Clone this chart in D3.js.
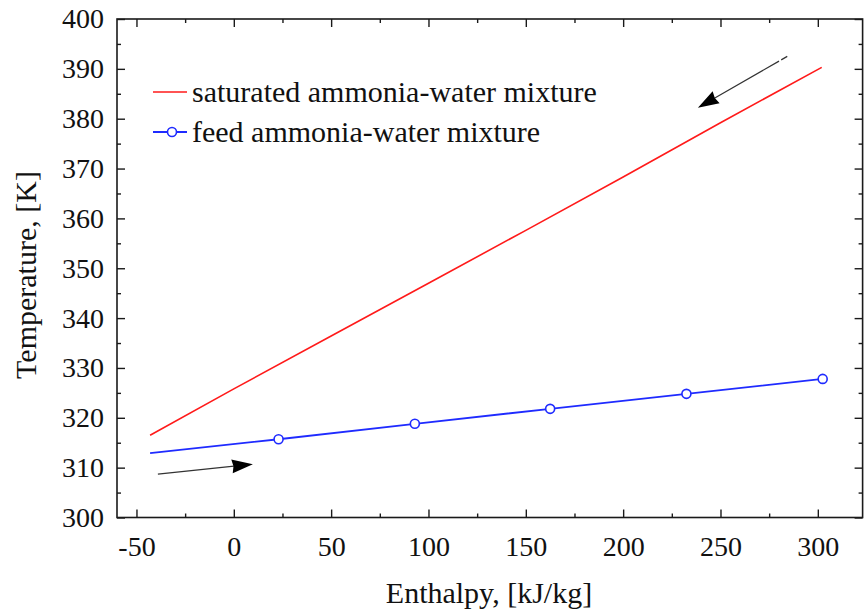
<!DOCTYPE html>
<html>
<head>
<meta charset="utf-8">
<script src="https://cdn.jsdelivr.net/npm/d3@7"></script>
<style>
  html, body { margin: 0; padding: 0; background: #fff; }
  svg { display: block; }
  svg text { font-family: "Liberation Serif", "Times New Roman", serif; fill: #111; }
</style>
</head>
<body>
<svg id="chart" width="865" height="616"></svg>
<script>
// Saturated ammonia-water mixture: temperature vs enthalpy
const satEnthalpy = [-43, 0, 50, 100, 150, 200, 250, 302];
const satTemp     = [316.5, 325.8, 336.4, 347.0, 357.6, 368.3, 379.2, 390.3];

// Feed ammonia-water mixture (markers on all but the first point)
const feedEnthalpy = [-43, 23, 93, 162.5, 232.5, 302.5];
const feedTemp     = [312.9, 315.7, 318.8, 321.8, 324.8, 327.8];
const feedMarked   = [false, true, true, true, true, true];

// Flow direction arrows: [tail enthalpy, tail temp, tip enthalpy, tip temp]
const feedArrow = [-39, 308.7, 9.8, 310.7];
const satArrow  = [284.3, 392.5, 238.4, 382.2];

const xTicks = [-50, 0, 50, 100, 150, 200, 250, 300];
const xMinor = [-25, 25, 75, 125, 175, 225, 275];
const yTicks = [300, 310, 320, 330, 340, 350, 360, 370, 380, 390, 400];
const yMinor = [305, 315, 325, 335, 345, 355, 365, 375, 385, 395];

const legendLabels = ["saturated ammonia-water mixture", "feed ammonia-water mixture"];

const FONT = '"Liberation Serif", "Times New Roman", serif';
const svg = d3.select("#chart");
const L = 117, R = 862.6, T = 19, B = 517.5;

const x = d3.scaleLinear().domain([-60, 323]).range([L, R]);
const y = d3.scaleLinear().domain([300, 400]).range([B, T]);

const axisColor = "#1a1a1a";

// frame
svg.append("rect")
  .attr("x", L).attr("y", T).attr("width", R - L).attr("height", B - T)
  .attr("fill", "none").attr("stroke", axisColor).attr("stroke-width", 1.6);

function styleAxis(g) {
  g.attr("font-family", FONT);
  g.select(".domain").remove();
  g.selectAll(".tick line").attr("stroke", axisColor).attr("stroke-width", 1.4);
}
const plain = d => String(d);

// bottom axis with labels
svg.append("g").attr("transform", `translate(0,${B})`)
  .call(d3.axisBottom(x).tickValues(xTicks).tickSize(-8).tickPadding(19).tickFormat(plain))
  .call(styleAxis)
  .call(g => g.selectAll("text").attr("font-size", 28).attr("dy", "0.71em")
    .attr("fill", "#111").attr("font-family", FONT));
svg.append("g").attr("transform", `translate(0,${B})`)
  .call(d3.axisBottom(x).tickValues(xMinor).tickSize(-4).tickFormat(""))
  .call(styleAxis);

// top axis ticks
svg.append("g").attr("transform", `translate(0,${T})`)
  .call(d3.axisTop(x).tickValues(xTicks).tickSize(-8).tickFormat(""))
  .call(styleAxis);
svg.append("g").attr("transform", `translate(0,${T})`)
  .call(d3.axisTop(x).tickValues(xMinor).tickSize(-4).tickFormat(""))
  .call(styleAxis);

// left axis with labels
svg.append("g").attr("transform", `translate(${L},0)`)
  .call(d3.axisLeft(y).tickValues(yTicks).tickSize(-8).tickPadding(13).tickFormat(plain))
  .call(styleAxis)
  .call(g => g.selectAll("text").attr("font-size", 28).attr("fill", "#111")
    .attr("font-family", FONT));
svg.append("g").attr("transform", `translate(${L},0)`)
  .call(d3.axisLeft(y).tickValues(yMinor).tickSize(-4).tickFormat(""))
  .call(styleAxis);

// right axis ticks
svg.append("g").attr("transform", `translate(${R},0)`)
  .call(d3.axisRight(y).tickValues(yTicks).tickSize(-8).tickFormat(""))
  .call(styleAxis);
svg.append("g").attr("transform", `translate(${R},0)`)
  .call(d3.axisRight(y).tickValues(yMinor).tickSize(-4).tickFormat(""))
  .call(styleAxis);

// axis titles
svg.append("text")
  .attr("x", 489).attr("y", 603)
  .attr("text-anchor", "middle").attr("font-size", 30).attr("font-family", FONT)
  .text("Enthalpy, [kJ/kg]");
svg.append("text")
  .attr("transform", "translate(36,275) rotate(-90)")
  .attr("text-anchor", "middle").attr("font-size", 30).attr("font-family", FONT)
  .text("Temperature, [K]");

// series
const line = d3.line().x(d => x(d[0])).y(d => y(d[1]));
const satData = satEnthalpy.map((e, i) => [e, satTemp[i]]);
const feedData = feedEnthalpy.map((e, i) => [e, feedTemp[i], feedMarked[i]]);

svg.append("path").datum(satData)
  .attr("d", line).attr("fill", "none")
  .attr("stroke", "#ff1a1a").attr("stroke-width", 1.6);

svg.append("path").datum(feedData)
  .attr("d", line).attr("fill", "none")
  .attr("stroke", "#1f2bff").attr("stroke-width", 1.8);

svg.selectAll("circle.feed").data(feedData.filter(d => d[2]))
  .join("circle").attr("class", "feed")
  .attr("cx", d => x(d[0])).attr("cy", d => y(d[1])).attr("r", 4.5)
  .attr("fill", "#fff").attr("stroke", "#1f2bff").attr("stroke-width", 1.6);

// arrows
function drawArrow(a, dash) {
  const x1 = x(a[0]), y1 = y(a[1]), x2 = x(a[2]), y2 = y(a[3]);
  const ang = Math.atan2(y2 - y1, x2 - x1);
  const len = 21, half = 7;
  const bx = x2 - len * Math.cos(ang), by = y2 - len * Math.sin(ang);
  svg.append("line")
    .attr("x1", x1).attr("y1", y1).attr("x2", bx + 2 * Math.cos(ang)).attr("y2", by + 2 * Math.sin(ang))
    .attr("stroke", "#333").attr("stroke-width", 1.2)
    .attr("stroke-dasharray", dash || null);
  const px = -Math.sin(ang), py = Math.cos(ang);
  svg.append("path")
    .attr("d", `M${x2},${y2}L${bx + half * px},${by + half * py}L${bx + 1.5 * Math.cos(ang)},${by + 1.5 * Math.sin(ang)}L${bx - half * px},${by - half * py}Z`)
    .attr("fill", "#000");
}
drawArrow(feedArrow);
drawArrow(satArrow, "7,2.5,1000");

// legend
const lg = svg.append("g").attr("font-family", FONT);
lg.append("line").attr("x1", 153).attr("x2", 187).attr("y1", 92).attr("y2", 92)
  .attr("stroke", "#ff1a1a").attr("stroke-width", 1.6);
lg.append("text").attr("x", 192).attr("y", 102).attr("font-size", 30).text(legendLabels[0]);
lg.append("line").attr("x1", 153).attr("x2", 187).attr("y1", 132).attr("y2", 132)
  .attr("stroke", "#1f2bff").attr("stroke-width", 1.8);
lg.append("circle").attr("cx", 172).attr("cy", 132).attr("r", 4.5)
  .attr("fill", "#fff").attr("stroke", "#1f2bff").attr("stroke-width", 1.6);
lg.append("text").attr("x", 192).attr("y", 142).attr("font-size", 30).text(legendLabels[1]);
</script>
</body>
</html>
